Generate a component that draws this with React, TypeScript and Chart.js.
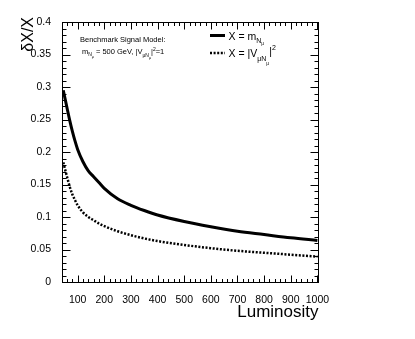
import React, { useEffect, useRef } from "react";
import { Chart, registerables } from "chart.js";

Chart.register(...registerables);

// Luminosity values (x)
const LUMI = [46, 60, 70, 80, 90, 100, 120, 140, 160, 180, 200, 250, 300, 350, 400, 500, 600, 700, 800, 900, 1000];
// X = m_N  (solid)
const MASS_REL_ERR = [0.295, 0.268, 0.249, 0.232, 0.217, 0.204, 0.185, 0.171, 0.162, 0.153, 0.144, 0.128, 0.118, 0.110, 0.103, 0.093, 0.085, 0.078, 0.073, 0.068, 0.064];
// X = |V|^2 (dotted)
const MIX_REL_ERR = [0.184, 0.162, 0.147, 0.135, 0.126, 0.118, 0.107, 0.100, 0.095, 0.090, 0.086, 0.078, 0.072, 0.067, 0.063, 0.057, 0.052, 0.048, 0.045, 0.042, 0.039];

const X_TICKS = [100, 200, 300, 400, 500, 600, 700, 800, 900, 1000];
const X_TITLE = "Luminosity";
const Y_TITLE = "δX/X";

type Seg = { t: string; s: number; dy?: number };

const FONT = "'Liberation Sans', Arial, Helvetica, sans-serif";

function drawRich(ctx: CanvasRenderingContext2D, x: number, y: number, segs: Seg[]) {
  let cx = x;
  ctx.textAlign = "left";
  ctx.textBaseline = "alphabetic";
  for (const sg of segs) {
    ctx.font = `${sg.s}px ${FONT}`;
    ctx.fillText(sg.t, cx, y + (sg.dy || 0));
    cx += ctx.measureText(sg.t).width;
  }
}

const overlayPlugin = {
  id: "rootStyle",
  afterDatasetsDraw(chart: any) {
    const ctx: CanvasRenderingContext2D = chart.ctx;
    const { left, right, top, bottom } = chart.chartArea;
    const xs = chart.scales.x;
    const ys = chart.scales.y;
    ctx.save();
    ctx.strokeStyle = "#000";
    ctx.fillStyle = "#000";
    ctx.lineWidth = 1;
    ctx.setLineDash([]);
    // frame
    const L = Math.round(left) - 0.5;
    const R = Math.round(right) - 0.5;
    const T = Math.round(top) + 0.5;
    const B = Math.round(bottom) + 0.5;
    ctx.strokeRect(L, T, R - L, B - T);

    ctx.beginPath();
    // x ticks (major + minor), bottom and top
    for (let v = 60; v <= xs.max; v += 20) {
      const px = Math.round(xs.getPixelForValue(v)) + 0.5;
      const major = v % 100 === 0;
      const len = major ? 7 : 3.5;
      ctx.moveTo(px, B);
      ctx.lineTo(px, B - len);
      ctx.moveTo(px, T);
      ctx.lineTo(px, T + len);
    }
    // y ticks (major + minor), left and right
    for (let i = 1; i < 40; i++) {
      const v = i / 100;
      const py = Math.round(ys.getPixelForValue(v)) + 0.5;
      const major = i % 5 === 0;
      const len = major ? 8 : 4;
      ctx.moveTo(L, py);
      ctx.lineTo(L + len, py);
      ctx.moveTo(R, py);
      ctx.lineTo(R - len, py);
    }
    ctx.stroke();

    // axis titles
    ctx.font = `17px ${FONT}`;
    ctx.textAlign = "right";
    ctx.textBaseline = "alphabetic";
    ctx.fillText(X_TITLE, 318.5, 317);

    ctx.save();
    ctx.translate(33, 17);
    ctx.rotate(-Math.PI / 2);
    ctx.font = `16px ${FONT}`;
    ctx.textAlign = "right";
    ctx.textBaseline = "alphabetic";
    ctx.fillText(Y_TITLE, 0, 0);
    ctx.restore();

    // benchmark text
    drawRich(ctx, 80, 42, [{ t: "Benchmark Signal Model:", s: 7.5 }]);
    drawRich(ctx, 82, 54, [
      { t: "m", s: 7.5 },
      { t: "N", s: 5, dy: 2 },
      { t: "μ", s: 3.5, dy: 3.5 },
      { t: " = 500 GeV, |V", s: 7.5 },
      { t: "μN", s: 5, dy: 3 },
      { t: "μ", s: 3.5, dy: 5 },
      { t: "|", s: 7.5 },
      { t: "2", s: 5, dy: -3.5 },
      { t: "=1", s: 7.5 },
    ]);

    // legend
    ctx.lineWidth = 3;
    ctx.beginPath();
    ctx.moveTo(210, 35.5);
    ctx.lineTo(225, 35.5);
    ctx.stroke();
    ctx.lineWidth = 2.5;
    ctx.setLineDash([2, 1.6]);
    ctx.beginPath();
    ctx.moveTo(210, 53);
    ctx.lineTo(225, 53);
    ctx.stroke();
    ctx.setLineDash([]);

    drawRich(ctx, 228.5, 39.5, [
      { t: "X = m", s: 10.5 },
      { t: "N", s: 7, dy: 3 },
      { t: "μ", s: 5, dy: 5.5 },
    ]);
    drawRich(ctx, 228.5, 57, [
      { t: "X = |V", s: 10.5 },
      { t: "μN", s: 7, dy: 4 },
      { t: "μ", s: 5, dy: 7.5 },
      { t: "|", s: 10.5, dy: -2 },
      { t: "2", s: 7, dy: -7 },
    ]);
    ctx.restore();
  },
};

export default function App() {
  const ref = useRef<HTMLCanvasElement | null>(null);

  useEffect(() => {
    if (!ref.current) return;
    const chart = new Chart(ref.current, {
      type: "line",
      data: {
        datasets: [
          {
            label: "X = m_N",
            data: LUMI.map((x, i) => ({ x, y: MASS_REL_ERR[i] })),
            borderColor: "#000",
            borderWidth: 3,
            pointRadius: 0,
            cubicInterpolationMode: "monotone",
            fill: false,
          },
          {
            label: "X = |V|^2",
            data: LUMI.map((x, i) => ({ x, y: MIX_REL_ERR[i] })),
            borderColor: "#000",
            borderWidth: 2.5,
            borderDash: [2, 1.6],
            pointRadius: 0,
            cubicInterpolationMode: "monotone",
            fill: false,
          },
        ],
      },
      options: {
        responsive: false,
        animation: false,
        devicePixelRatio: 1,
        layout: { padding: { top: 22, right: 96, left: 0, bottom: 0 } },
        plugins: { legend: { display: false }, tooltip: { enabled: false } },
        scales: {
          x: {
            type: "linear",
            min: 45,
            max: 1006,
            grid: { display: false },
            border: { display: false },
            ticks: {
              stepSize: 100,
              autoSkip: false,
              maxRotation: 0,
              padding: 4,
              color: "#000",
              font: { family: FONT, size: 10.5 },
              callback: (v: any) => String(v),
            },
            afterBuildTicks: (s: any) => {
              s.ticks = X_TICKS.map((v) => ({ value: v }));
            },
            afterFit: (s: any) => {
              s.height = 57;
            },
          },
          y: {
            min: 0,
            max: 0.4,
            grid: { display: false },
            border: { display: false },
            ticks: {
              stepSize: 0.05,
              padding: 4,
              color: "#000",
              font: { family: FONT, size: 10.5 },
              callback: (v: any) => String(+Number(v).toFixed(2)),
            },
            afterFit: (s: any) => {
              s.width = 63;
            },
          },
        },
      },
      plugins: [overlayPlugin],
    } as any);
    return () => chart.destroy();
  }, []);

  return (
    <div style={{ position: "absolute", left: 0, top: 0, width: 415, height: 339, background: "#fff" }}>
      <canvas ref={ref} width={415} height={339} style={{ display: "block" }} />
    </div>
  );
}
